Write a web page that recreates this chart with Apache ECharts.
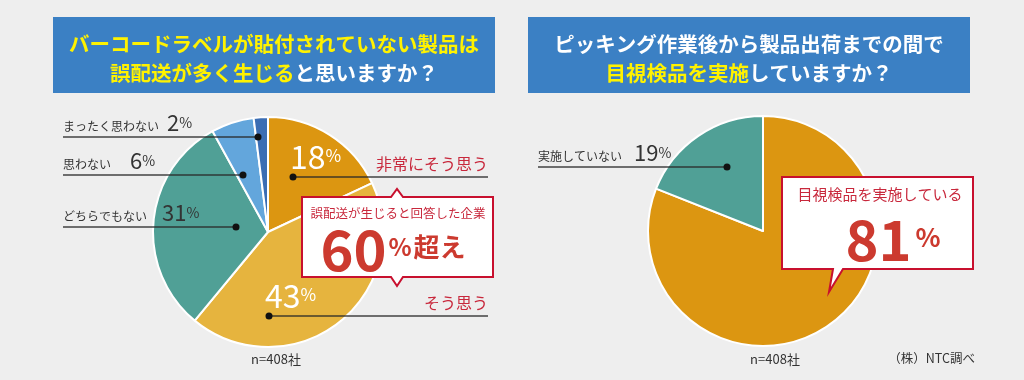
<!DOCTYPE html>
<html><head><meta charset="utf-8">
<script src="https://cdn.jsdelivr.net/npm/echarts@6/dist/echarts.min.js"></script>
<style>html,body{margin:0;padding:0;background:#eeeeee;}#c{width:1024px;height:380px;}</style>
</head><body><div id="c"></div>
<script>
// Data
const leftCategories = ['非常にそう思う', 'そう思う', 'どちらでもない', '思わない', 'まったく思わない'];
const leftValues = [18, 43, 31, 6, 2];
const leftColors = ['#dc9611', '#e6b43e', '#50a096', '#63a6dc', '#3b6db3'];
const rightCategories = ['目視検品を実施している', '実施していない'];
const rightValues = [81, 19];
const rightColors = ['#dc9611', '#50a096'];
const sampleLabel = 'n=408社';
const sourceLabel = '（株）NTC調べ';

const FONT = '"Noto Sans CJK JP", "Noto Sans", sans-serif';
const chart = echarts.init(document.getElementById('c'));

function pieSeries(center, cats, vals, cols) {
  return {
    type: 'pie', center: center, radius: 115, startAngle: 90, clockwise: true,
    silent: true, animation: false,
    label: { show: false }, labelLine: { show: false },
    itemStyle: { borderColor: '#ffffff', borderWidth: 2 },
    data: cats.map((c, i) => ({ name: c, value: vals[i], itemStyle: { color: cols[i] } }))
  };
}

const lineColor = 'rgba(40,40,40,0.65)';
function leader(x1, x2, y, dotX) {
  return [
    { type: 'line', z: 10, shape: { x1: x1, y1: y, x2: x2, y2: y }, style: { stroke: lineColor, lineWidth: 2 } },
    { type: 'circle', z: 11, shape: { cx: dotX, cy: y, r: 3.5 }, style: { fill: '#111' } }
  ];
}
function darkLabel(x, vx, y, name, val) {
  return [
    { type: 'text', z: 12, x: x, y: y - 2, style: { text: name, fontSize: 12, fontFamily: FONT, fill: '#333', textVerticalAlign: 'bottom' } },
    { type: 'text', z: 12, x: vx, y: y, style: {
      text: '{v|' + val + '}{p|%}', textVerticalAlign: 'bottom',
      rich: { v: { fontSize: 22, fontFamily: FONT, fill: '#333' },
              p: { fontSize: 14, fontFamily: FONT, fill: '#333', padding: [0, 0, 1, 0] } } } }
  ];
}
function whitePct(x, y, val) {
  return { type: 'text', z: 12, x: x, y: y, style: {
    text: '{v|' + val + '}{p|%}', textVerticalAlign: 'bottom',
    rich: { v: { fontSize: 32, fontFamily: FONT, fill: '#fff' },
            p: { fontSize: 17, fontFamily: FONT, fill: '#fff', padding: [0, 0, 2, 0] } } } };
}
function redName(xRight, y, name, size) {
  return { type: 'text', z: 12, x: xRight, y: y, style: {
    text: name, fontSize: size, fontFamily: FONT, fill: '#c8283c', textAlign: 'right', textVerticalAlign: 'bottom' } };
}
const titleRich = {
  y: { fontSize: 20.5, fontWeight: 'bold', fontFamily: FONT, fill: '#fff200' },
  w: { fontSize: 20.5, fontWeight: 'bold', fontFamily: FONT, fill: '#ffffff' }
};

const graphics = [
  // title boxes
  { type: 'rect', shape: { x: 53, y: 17, width: 442, height: 76 }, style: { fill: '#3b80c4' } },
  { type: 'rect', shape: { x: 528, y: 17, width: 442, height: 76 }, style: { fill: '#3b80c4' } },
  { type: 'text', x: 274, y: 44, style: { text: '{y|バーコードラベルが貼付されていない製品は}', textAlign: 'center', textVerticalAlign: 'middle', rich: titleRich } },
  { type: 'text', x: 274, y: 73, style: { text: '{y|誤配送が多く生じる}{w|と思いますか？}', textAlign: 'center', textVerticalAlign: 'middle', rich: titleRich } },
  { type: 'text', x: 749, y: 44, style: { text: '{w|ピッキング作業後から製品出荷までの間で}', textAlign: 'center', textVerticalAlign: 'middle', rich: titleRich } },
  { type: 'text', x: 749, y: 73, style: { text: '{y|目視検品を実施}{w|していますか？}', textAlign: 'center', textVerticalAlign: 'middle', rich: titleRich } },

  // left chart annotations
  ...leader(63, 258, 137, 258),
  ...darkLabel(63, 167, 134, leftCategories[4], leftValues[4]),
  ...leader(63, 243, 175, 243),
  ...darkLabel(63, 130, 172, leftCategories[3], leftValues[3]),
  ...leader(63, 236, 227, 236),
  ...darkLabel(63, 162, 224, leftCategories[2], leftValues[2]),
  ...leader(293, 488, 177, 293),
  whitePct(290, 173, leftValues[0]),
  redName(488, 172, leftCategories[0], 16),
  ...leader(269, 488, 316, 269),
  whitePct(265, 312, leftValues[1]),
  redName(488, 311, leftCategories[1], 16),

  // left callout
  { type: 'polygon', z: 20, shape: { points: [[302,197],[391,197],[397,189],[403,197],[493,197],[493,277],[403,277],[397,286],[391,277],[302,277]] },
    style: { fill: '#ffffff', stroke: '#c8102e', lineWidth: 2 } },
  { type: 'text', z: 21, x: 398, y: 213, style: { text: '誤配送が生じると回答した企業', fontSize: 12.5, fontFamily: FONT, fill: '#c8283c', textAlign: 'center', textVerticalAlign: 'middle' } },
  { type: 'text', z: 21, x: 393, y: 278, style: { text: '{b|60}{p|%}{s|超え}', textAlign: 'center', textVerticalAlign: 'bottom',
      rich: { b: { fontSize: 56, fontWeight: 'bold', fontFamily: FONT, fill: '#cc3a2f' },
              p: { fontSize: 24, fontWeight: 'bold', fontFamily: FONT, fill: '#cc3a2f', padding: [0, 2, 6, 2] },
              s: { fontSize: 26, fontWeight: 'bold', fontFamily: FONT, fill: '#cc3a2f', padding: [0, 0, 5, 0] } } } },

  // right chart annotations
  ...leader(538, 727, 167, 727),
  ...darkLabel(538, 634, 164, rightCategories[1], rightValues[1]),
  { type: 'polygon', z: 20, shape: { points: [[782,177],[973,177],[973,269],[843,269],[829,292],[833,269],[782,269]] },
    style: { fill: '#ffffff', stroke: '#c8102e', lineWidth: 2 } },
  { type: 'text', z: 21, x: 880, y: 194, style: { text: rightCategories[0], fontSize: 15, fontFamily: FONT, fill: '#c8283c', textAlign: 'center', textVerticalAlign: 'middle' } },
  { type: 'text', z: 21, x: 893, y: 268, style: { text: '{b|' + rightValues[0] + '}{p|%}', textAlign: 'center', textVerticalAlign: 'bottom',
      rich: { b: { fontSize: 56, fontWeight: 'bold', fontFamily: FONT, fill: '#cc3a2f' },
              p: { fontSize: 26, fontWeight: 'bold', fontFamily: FONT, fill: '#cc3a2f', padding: [0, 0, 6, 4] } } } },

  // footers
  { type: 'text', x: 276, y: 359, style: { text: sampleLabel, fontSize: 13, fontFamily: FONT, fill: '#333', textAlign: 'center', textVerticalAlign: 'middle' } },
  { type: 'text', x: 775, y: 359, style: { text: sampleLabel, fontSize: 13, fontFamily: FONT, fill: '#333', textAlign: 'center', textVerticalAlign: 'middle' } },
  { type: 'text', x: 975, y: 358, style: { text: sourceLabel, fontSize: 12.5, fontFamily: FONT, fill: '#333', textAlign: 'right', textVerticalAlign: 'middle' } }
];

chart.setOption({
  backgroundColor: '#eeeeee',
  animation: false,
  series: [
    pieSeries([268, 232], leftCategories, leftValues, leftColors),
    pieSeries([763, 231], rightCategories, rightValues, rightColors)
  ],
  graphic: graphics
});
</script></body></html>
